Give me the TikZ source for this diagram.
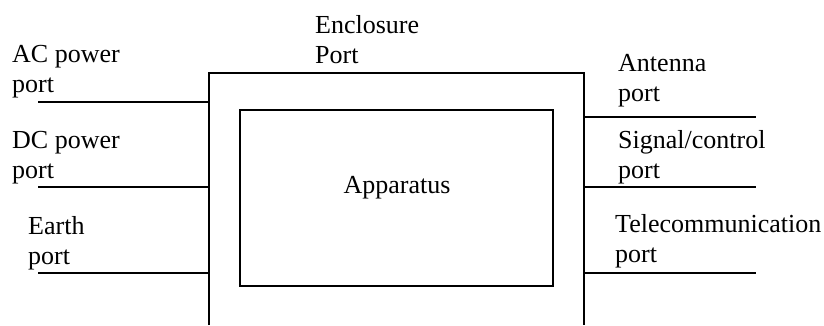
\documentclass[tikz,border=0pt]{standalone}
\usepackage{fontspec}
\setmainfont{Liberation Serif}
\begin{document}
\begin{tikzpicture}[x=1pt,y=-1pt,
  wire/.style={line width=1.6pt},
  lbl/.style={anchor=base west,inner sep=0pt,align=left,font=\fontsize{26}{30}\selectfont}]
\useasboundingbox (0,0) rectangle (824,325);
% enclosure (open at bottom)
\coordinate (obl) at (209,325);
\coordinate (otl) at (209,73);
\coordinate (otr) at (584,73);
\coordinate (obr) at (584,325);
\draw[wire] (obl) -- (otl) -- (otr) -- (obr);
% apparatus
\node[draw,wire,minimum width=313pt,minimum height=176pt,inner sep=0pt] (app) at (396.5,198) {};
\node[anchor=base,inner sep=0pt,font=\fontsize{26}{30}\selectfont] (apptxt) at (397,193) {Apparatus};
% left ports
\coordinate (ac) at (38,102);  \coordinate (acE) at (209,102);
\coordinate (dc) at (38,187);  \coordinate (dcE) at (209,187);
\coordinate (ea) at (38,273);  \coordinate (eaE) at (209,273);
\draw[wire] (ac) -- (acE);
\draw[wire] (dc) -- (dcE);
\draw[wire] (ea) -- (eaE);
% right ports
\coordinate (an) at (756,117); \coordinate (anE) at (584,117);
\coordinate (sg) at (756,187); \coordinate (sgE) at (584,187);
\coordinate (tc) at (756,273); \coordinate (tcE) at (584,273);
\draw[wire] (anE) -- (an);
\draw[wire] (sgE) -- (sg);
\draw[wire] (tcE) -- (tc);
% labels (anchor = baseline of the last line)
\node[lbl] (lac) at (12,92) {AC power\\port};
\node[lbl] (ldc) at (12,178) {DC power\\port};
\node[lbl] (lea) at (28,264) {Earth\\port};
\node[lbl] (len) at (315,63) {Enclosure\\Port};
\node[lbl] (lan) at (618,101) {Antenna\\port};
\node[lbl] (lsg) at (618,178) {Signal/control\\port};
\node[lbl] (ltc) at (615,262) {Telecommunication\\port};
\end{tikzpicture}
\end{document}
